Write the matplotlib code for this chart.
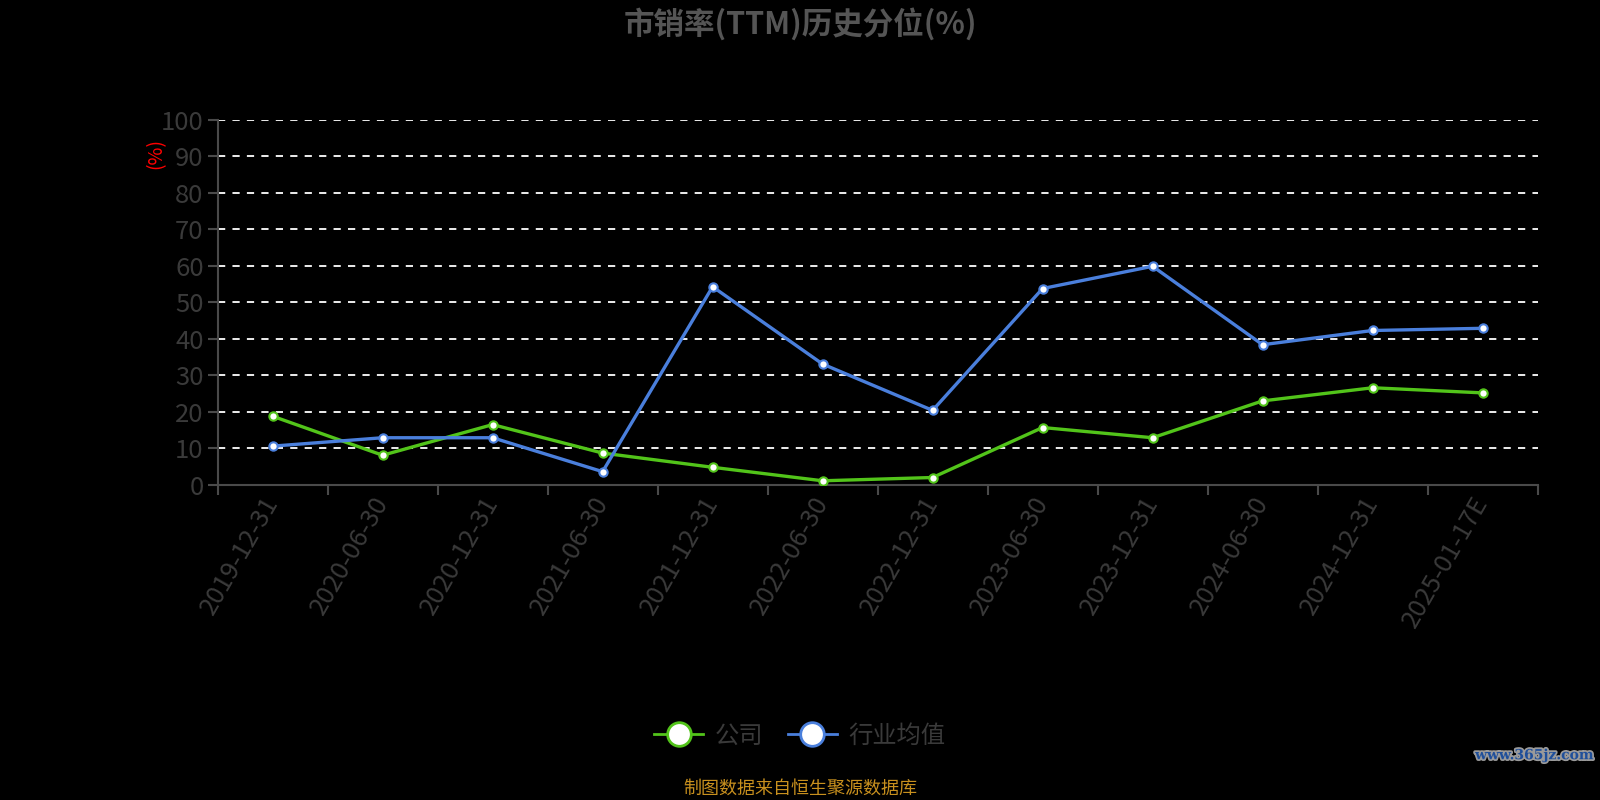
import matplotlib

matplotlib.use("Agg")
import matplotlib.patheffects as pe
import matplotlib.pyplot as plt
from matplotlib.lines import Line2D
from matplotlib.ticker import FixedLocator, NullFormatter

plt.rcParams["font.family"] = ["Noto Sans CJK SC", "DejaVu Sans"]

dates = [
    "2019-12-31", "2020-06-30", "2020-12-31", "2021-06-30",
    "2021-12-31", "2022-06-30", "2022-12-31", "2023-06-30",
    "2023-12-31", "2024-06-30", "2024-12-31", "2025-01-17E",
]
company = [18.8, 8.1, 16.5, 8.7, 4.8, 1.1, 2.0, 15.7, 12.9, 23.0, 26.6, 25.2]
industry = [10.6, 12.9, 12.9, 3.6, 54.3, 33.1, 20.4, 53.8, 59.9, 38.4, 42.3, 42.9]
yticks = list(range(0, 101, 10))

GREEN = "#52c41a"
BLUE = "#4a7fdc"
GRAY = "#3a3a3a"
AXIS = "#4a4a4a"

fig = plt.figure(figsize=(16, 8), dpi=100, facecolor="black")
ax = fig.add_axes([0.136, 0.394, 0.825, 0.456], facecolor="black")

x = list(range(len(dates)))
ax.plot(x, company, color=GREEN, lw=2.4, marker="o", ms=6,
        mfc="white", mec=GREEN, mew=1.5, zorder=4)
ax.plot(x, industry, color=BLUE, lw=2.4, marker="o", ms=6,
        mfc="white", mec=BLUE, mew=1.5, zorder=4)

ax.set_xlim(-0.5, len(dates) - 0.5)
ax.set_ylim(0, 100)

# gridlines (no line at 0)
for v in yticks[1:]:
    ax.axhline(v, color="white", lw=1.3, ls=(0, (4, 4)), zorder=1)

for side in ["top", "right"]:
    ax.spines[side].set_visible(False)
for side in ["left", "bottom"]:
    ax.spines[side].set_color(AXIS)
    ax.spines[side].set_linewidth(1.5)

ax.set_yticks(yticks)
ax.tick_params(axis="y", colors=AXIS, length=7, width=1.5, labelsize=18.5,
               labelcolor=GRAY, pad=3)

# category axis: ticks at boundaries, labels at centres
ax.xaxis.set_major_locator(FixedLocator([i - 0.5 for i in range(len(dates) + 1)]))
ax.xaxis.set_major_formatter(NullFormatter())
ax.xaxis.set_minor_locator(FixedLocator(x))
ax.set_xticklabels(dates, minor=True)
ax.tick_params(axis="x", which="major", colors=AXIS, length=7, width=1.5)
ax.tick_params(axis="x", which="minor", length=0, labelsize=18.5,
               labelcolor=GRAY, pad=10)
for lbl in ax.get_xticklabels(minor=True):
    lbl.set_rotation(60)
    lbl.set_ha("right")
    lbl.set_va("center")
    lbl.set_rotation_mode("anchor")

fig.text(0.0975, 0.808, "(%)", color="red", fontsize=14, rotation=90,
         ha="center", va="center")

fig.text(0.5, 0.97, "市销率(TTM)历史分位(%)", color="#555555", fontsize=22,
         fontweight="bold", ha="center", va="center")

handles = [
    Line2D([], [], color=GREEN, lw=2, marker="o", ms=17, mfc="white",
           mec=GREEN, mew=2),
    Line2D([], [], color=BLUE, lw=2, marker="o", ms=17, mfc="white",
           mec=BLUE, mew=2),
]
fig.legend(handles, ["公司", "行业均值"], loc="center", bbox_to_anchor=(0.5, 0.08),
           ncol=2, frameon=False, fontsize=17.5, labelcolor=GRAY,
           handlelength=2.0, columnspacing=1.0, handletextpad=0.5)

fig.text(0.5, 0.014, "制图数据来自恒生聚源数据库", color="#c8901e", fontsize=13,
         ha="center", va="center")

wm = fig.text(0.996, 0.056, "www.365jz.com", color="#1f4f9a", fontsize=10,
              fontweight="bold", family="DejaVu Serif", ha="right", va="center")
wm.set_path_effects([pe.withStroke(linewidth=2.5, foreground="#9a9a9a")])

fig.savefig("out.png", dpi=100, facecolor="black")
